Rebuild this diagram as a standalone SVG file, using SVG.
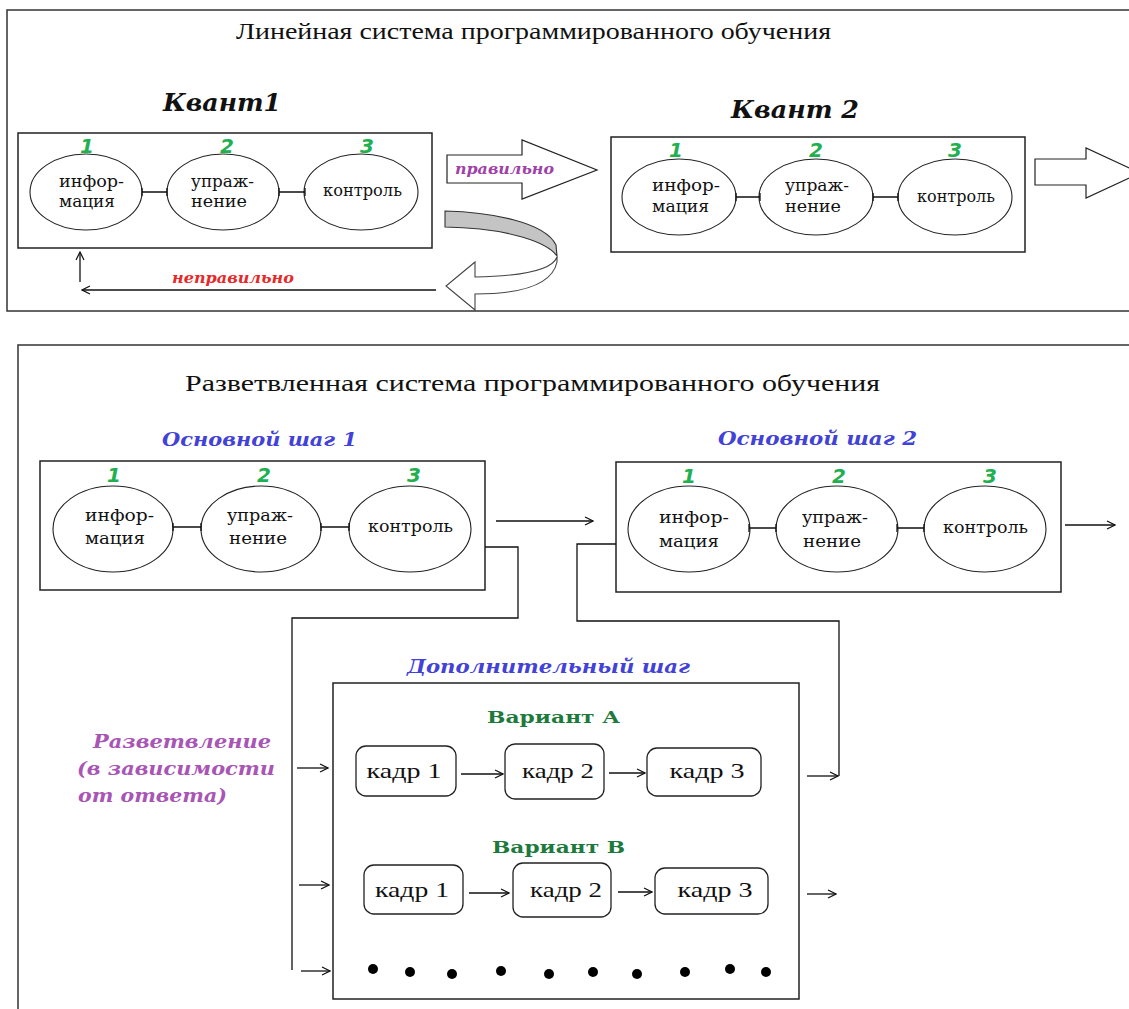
<svg xmlns="http://www.w3.org/2000/svg" width="1129" height="1009" viewBox="0 0 1129 1009">
<style>
.frame{fill:none;stroke:#333;stroke-width:1.5}
.box{fill:#fff;stroke:#222;stroke-width:1.5}
.ell{fill:#fff;stroke:#222;stroke-width:1.1}
.kadr{fill:#fff;stroke:#222;stroke-width:1.3}
.ln{fill:none;stroke:#111;stroke-width:1.3}
.arr{fill:none;stroke:#111;stroke-width:1.3;marker-end:url(#oh)}
.title{font-family:"Liberation Serif",serif;font-size:24px;fill:#111}
.node{font-family:"DejaVu Serif",serif;font-size:16px;fill:#111}
.kt{font-family:"Liberation Serif",serif;font-size:21px;fill:#111;text-anchor:middle}
.num{font-family:"DejaVu Sans",sans-serif;font-weight:bold;font-style:italic;font-size:20px;fill:#20b050;text-anchor:middle}
.bi{font-family:"DejaVu Serif",serif;font-weight:bold;font-style:italic}
.var{font-family:"DejaVu Serif",serif;font-weight:bold;font-size:17px;fill:#1e7a3c}
.blockarr{fill:#fff;stroke:#222;stroke-width:1.2}
</style>
<defs>
<marker id="oh" viewBox="0 0 10 10" refX="9" refY="5" markerWidth="10" markerHeight="10" markerUnits="userSpaceOnUse" orient="auto">
<path d="M1,1 L9,5 L1,9" fill="none" stroke="#111" stroke-width="1.2"/>
</marker>
</defs>
<rect width="1129" height="1009" fill="#fff"/>

<g id="frame-linear">
<rect class="frame" x="7" y="10" width="1200" height="301"/>
<text class="title" x="236" y="39" textLength="595" lengthAdjust="spacingAndGlyphs">Линейная система программированного обучения</text>
</g>

<g id="kvant1">
<text class="bi" x="163" y="111" font-size="24" fill="#111" textLength="118" lengthAdjust="spacingAndGlyphs">Квант1</text>
<rect class="box" x="18" y="133" width="414" height="115"/>
<text class="num" x="87" y="153">1</text>
<text class="num" x="227" y="153">2</text>
<text class="num" x="367" y="153">3</text>
<ellipse class="ell" cx="86" cy="192" rx="56" ry="38"/>
<ellipse class="ell" cx="223" cy="192" rx="56" ry="38"/>
<ellipse class="ell" cx="361" cy="192" rx="57" ry="38"/>
<path class="ln" d="M142,192 H167 M142,188 V196 M167,188 V196 M279,192 H305 M279,188 V196 M305,188 V196"/>
<text class="node" x="59" y="187" textLength="65" lengthAdjust="spacingAndGlyphs">инфор-</text>
<text class="node" x="59" y="207" textLength="56" lengthAdjust="spacingAndGlyphs">мация</text>
<text class="node" x="191" y="187" textLength="63" lengthAdjust="spacingAndGlyphs">упраж-</text>
<text class="node" x="191" y="207" textLength="56" lengthAdjust="spacingAndGlyphs">нение</text>
<text class="node" x="323" y="196" textLength="79" lengthAdjust="spacingAndGlyphs">контроль</text>
</g>

<g id="kvant2">
<text class="bi" x="731" y="118" font-size="24" fill="#111" textLength="128" lengthAdjust="spacingAndGlyphs">Квант 2</text>
<rect class="box" x="611" y="137" width="414" height="115"/>
<text class="num" x="676" y="157">1</text>
<text class="num" x="816" y="157">2</text>
<text class="num" x="955" y="157">3</text>
<ellipse class="ell" cx="679" cy="197" rx="57" ry="38"/>
<ellipse class="ell" cx="816" cy="197" rx="57" ry="38"/>
<ellipse class="ell" cx="955" cy="197" rx="57" ry="38"/>
<path class="ln" d="M736,197 H760 M736,193 V201 M760,193 V201 M873,197 H898 M873,193 V201 M898,193 V201"/>
<text class="node" x="652" y="191" textLength="68" lengthAdjust="spacingAndGlyphs">инфор-</text>
<text class="node" x="652" y="212" textLength="57" lengthAdjust="spacingAndGlyphs">мация</text>
<text class="node" x="785" y="191" textLength="64" lengthAdjust="spacingAndGlyphs">упраж-</text>
<text class="node" x="785" y="212" textLength="56" lengthAdjust="spacingAndGlyphs">нение</text>
<text class="node" x="917" y="202" textLength="78" lengthAdjust="spacingAndGlyphs">контроль</text>
</g>

<g id="linear-connectors">
<polygon class="blockarr" points="447,155 522,155 522,140 597,170 522,199 522,183 447,183"/>
<text class="bi" x="455" y="174" font-size="15" fill="#a040a8" textLength="99" lengthAdjust="spacingAndGlyphs">правильно</text>
<polygon class="blockarr" points="1035,159 1086,159 1086,148 1140,173 1086,198 1086,185 1035,185"/>
<path d="M445,211 C490,212 545,222 556,245 L557,256 C548,243 510,228 445,227 Z" fill="#c4c4c4" stroke="#333" stroke-width="1.1"/>
<path d="M557,257 C553,268 530,276 475,277 L475,262 L446,286 L475,310 L475,294 C520,294 552,285 557,262 Z" fill="#fff" stroke="#444" stroke-width="1.1"/>
<line class="arr" x1="436" y1="290" x2="82" y2="290"/>
<line class="arr" x1="80" y1="282" x2="80" y2="252"/>
<text class="bi" x="172" y="283" font-size="15" fill="#e82828" textLength="122" lengthAdjust="spacingAndGlyphs">неправильно</text>
</g>

<g id="frame-branched">
<rect class="frame" x="18" y="345" width="1200" height="700"/>
<text class="title" x="185" y="391" textLength="695" lengthAdjust="spacingAndGlyphs">Разветвленная система программированного обучения</text>
</g>

<g id="step1">
<text class="bi" x="162" y="446" font-size="19" fill="#4242d8" textLength="195" lengthAdjust="spacingAndGlyphs">Основной шаг 1</text>
<rect class="box" x="40" y="461" width="445" height="129"/>
<text class="num" x="114" y="482">1</text>
<text class="num" x="264" y="482">2</text>
<text class="num" x="414" y="482">3</text>
<ellipse class="ell" cx="113" cy="529" rx="60" ry="43"/>
<ellipse class="ell" cx="261" cy="529" rx="60" ry="43"/>
<ellipse class="ell" cx="410" cy="529" rx="61" ry="43"/>
<path class="ln" d="M173,527 H201 M173,523 V531 M201,523 V531 M321,527 H349 M321,523 V531 M349,523 V531"/>
<text class="node" x="85" y="521" textLength="69" lengthAdjust="spacingAndGlyphs">инфор-</text>
<text class="node" x="85" y="544" textLength="60" lengthAdjust="spacingAndGlyphs">мация</text>
<text class="node" x="227" y="521" textLength="66" lengthAdjust="spacingAndGlyphs">упраж-</text>
<text class="node" x="229" y="544" textLength="58" lengthAdjust="spacingAndGlyphs">нение</text>
<text class="node" x="368" y="532" textLength="85" lengthAdjust="spacingAndGlyphs">контроль</text>
</g>

<g id="step2">
<text class="bi" x="718" y="445" font-size="19" fill="#4242d8" textLength="199" lengthAdjust="spacingAndGlyphs">Основной шаг 2</text>
<rect class="box" x="616" y="462" width="445" height="130"/>
<text class="num" x="689" y="483">1</text>
<text class="num" x="839" y="483">2</text>
<text class="num" x="990" y="483">3</text>
<ellipse class="ell" cx="689" cy="529" rx="61" ry="43"/>
<ellipse class="ell" cx="837" cy="529" rx="61" ry="43"/>
<ellipse class="ell" cx="985" cy="529" rx="61" ry="43"/>
<path class="ln" d="M749,528 H776 M749,524 V532 M776,524 V532 M897,528 H924 M897,524 V532 M924,524 V532"/>
<text class="node" x="659" y="523" textLength="70" lengthAdjust="spacingAndGlyphs">инфор-</text>
<text class="node" x="659" y="547" textLength="60" lengthAdjust="spacingAndGlyphs">мация</text>
<text class="node" x="802" y="523" textLength="66" lengthAdjust="spacingAndGlyphs">упраж-</text>
<text class="node" x="803" y="547" textLength="58" lengthAdjust="spacingAndGlyphs">нение</text>
<text class="node" x="943" y="533" textLength="85" lengthAdjust="spacingAndGlyphs">контроль</text>
</g>

<g id="extra-step">
<text class="bi" x="407" y="673" font-size="19" fill="#4242d8" textLength="283" lengthAdjust="spacingAndGlyphs">Дополнительный шаг</text>
<rect class="box" x="333" y="683" width="466" height="316"/>
<text class="var" x="487" y="723" textLength="133" lengthAdjust="spacingAndGlyphs">Вариант А</text>
<text class="var" x="492" y="853" textLength="133" lengthAdjust="spacingAndGlyphs">Вариант В</text>
</g>

<g id="kadr-a1"><rect class="kadr" x="356" y="746" width="100" height="50" rx="10"/><text class="kt" x="404" y="778" textLength="75" lengthAdjust="spacingAndGlyphs">кадр 1</text></g>
<g id="kadr-a2"><rect class="kadr" x="505" y="744" width="99" height="55" rx="10"/><text class="kt" x="558" y="778" textLength="72" lengthAdjust="spacingAndGlyphs">кадр 2</text></g>
<g id="kadr-a3"><rect class="kadr" x="647" y="748" width="114" height="48" rx="10"/><text class="kt" x="707" y="778" textLength="75" lengthAdjust="spacingAndGlyphs">кадр 3</text></g>
<g id="kadr-b1"><rect class="kadr" x="364" y="865" width="99" height="49" rx="10"/><text class="kt" x="412" y="897" textLength="74" lengthAdjust="spacingAndGlyphs">кадр 1</text></g>
<g id="kadr-b2"><rect class="kadr" x="513" y="863" width="98" height="54" rx="10"/><text class="kt" x="566" y="897" textLength="72" lengthAdjust="spacingAndGlyphs">кадр 2</text></g>
<g id="kadr-b3"><rect class="kadr" x="655" y="868" width="113" height="46" rx="10"/><text class="kt" x="715" y="897" textLength="75" lengthAdjust="spacingAndGlyphs">кадр 3</text></g>

<g id="dots" fill="#000">
<circle cx="373" cy="969" r="5"/><circle cx="410" cy="972" r="5"/><circle cx="452" cy="974" r="5"/><circle cx="501" cy="971" r="5"/><circle cx="549" cy="974" r="5"/>
<circle cx="593" cy="972" r="5"/><circle cx="637" cy="974" r="5"/><circle cx="685" cy="972" r="5"/><circle cx="730" cy="969" r="5"/><circle cx="766" cy="972" r="5"/>
</g>

<g id="branch-label">
<text class="bi" font-size="19" fill="#a855b5">
<tspan x="93" y="748" textLength="178" lengthAdjust="spacingAndGlyphs">Разветвление</tspan>
<tspan x="77" y="775" textLength="198" lengthAdjust="spacingAndGlyphs">(в зависимости</tspan>
<tspan x="78" y="802" textLength="149" lengthAdjust="spacingAndGlyphs">от ответа)</tspan>
</text>
</g>

<g id="branched-connectors">
<line class="arr" x1="496" y1="521" x2="593" y2="521"/>
<line class="arr" x1="1065" y1="525" x2="1115" y2="525"/>
<polyline class="ln" points="485,547 518,547 518,618 292,618 292,970"/>
<polyline class="ln" points="616,544 577,544 577,621 839,621 839,776"/>
<line class="arr" x1="297" y1="768" x2="328" y2="768"/>
<line class="arr" x1="299" y1="885" x2="329" y2="885"/>
<line class="arr" x1="301" y1="971" x2="330" y2="971"/>
<line class="arr" x1="461" y1="774" x2="503" y2="774"/>
<line class="arr" x1="609" y1="773" x2="645" y2="773"/>
<line class="arr" x1="469" y1="893" x2="509" y2="893"/>
<line class="arr" x1="618" y1="892" x2="652" y2="892"/>
<line class="arr" x1="807" y1="776" x2="838" y2="776"/>
<line class="arr" x1="807" y1="894" x2="836" y2="894"/>
</g>
</svg>
